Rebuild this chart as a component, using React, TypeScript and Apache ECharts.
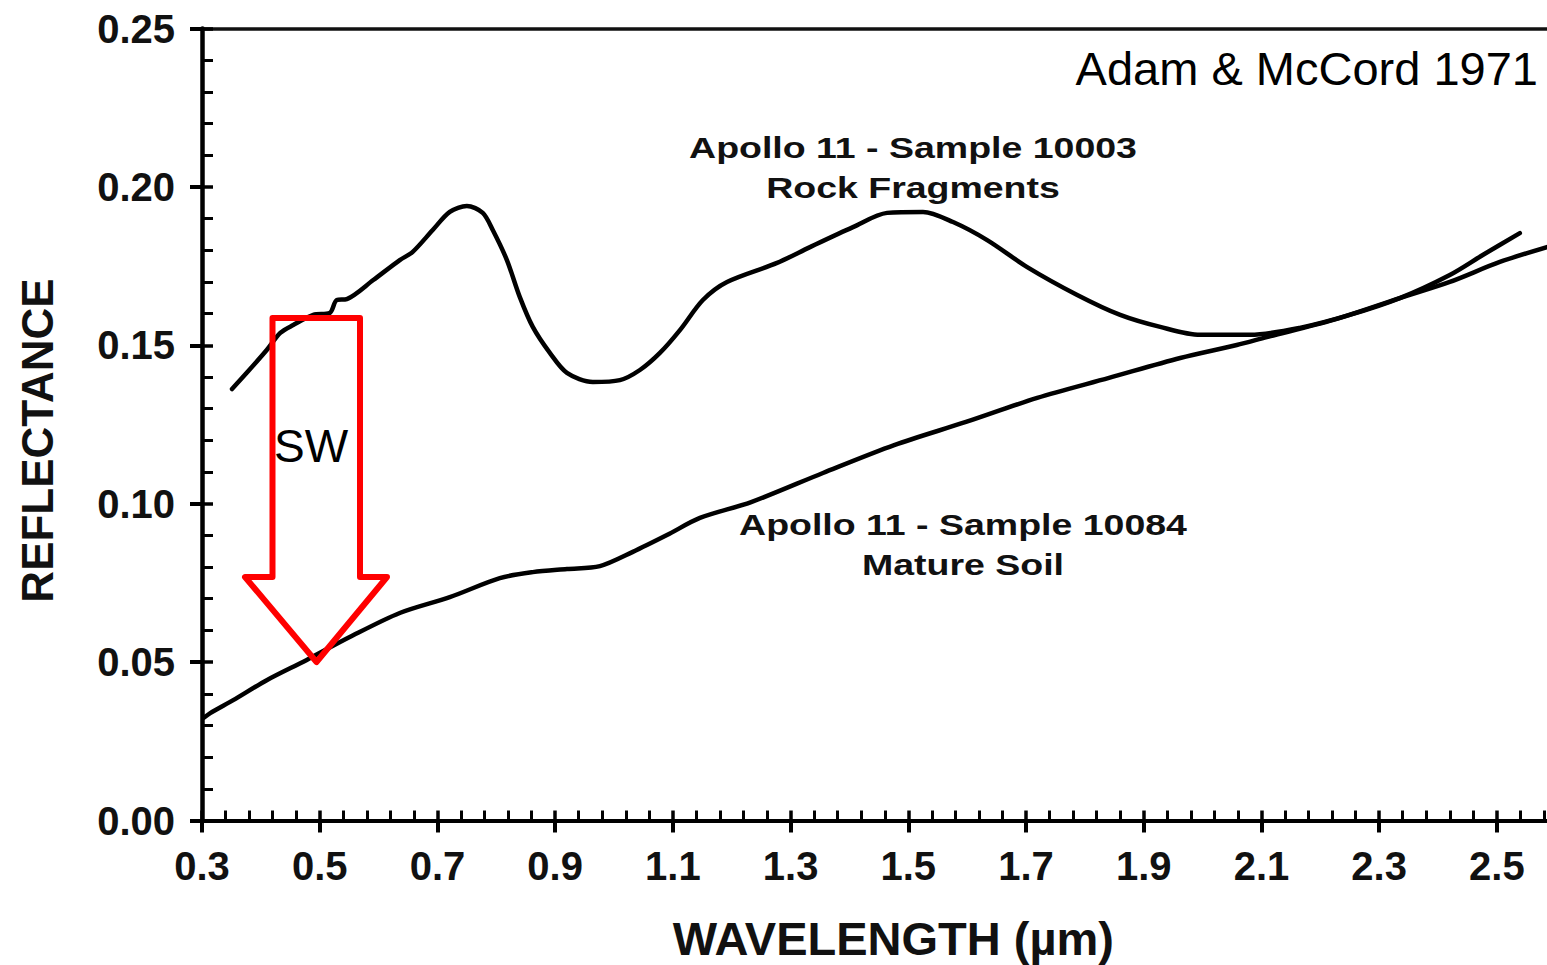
import React, { useEffect, useRef } from "react";
import * as echarts from "echarts";

// Apollo 11 sample 10003 (rock fragments)
const rockWavelength = [0.351, 0.376, 0.41, 0.433, 0.455, 0.489, 0.517, 0.529, 0.546, 0.591, 0.636, 0.658, 0.692, 0.721, 0.75, 0.777, 0.794, 0.818, 0.84, 0.862, 0.891, 0.92, 0.964, 1.01, 1.044, 1.078, 1.112, 1.151, 1.192, 1.277, 1.333, 1.406, 1.464, 1.525, 1.576, 1.634, 1.702, 1.787, 1.86, 1.928, 1.996, 2.081, 2.165, 2.25, 2.335, 2.42, 2.476, 2.539];
const rockReflectance = [0.1362, 0.1413, 0.1485, 0.1539, 0.1564, 0.1596, 0.1602, 0.1643, 0.1646, 0.1706, 0.1769, 0.1795, 0.1864, 0.1921, 0.194, 0.1918, 0.1864, 0.1769, 0.1652, 0.1558, 0.1476, 0.1413, 0.1384, 0.139, 0.1422, 0.1476, 0.1548, 0.1643, 0.17, 0.176, 0.181, 0.1873, 0.1918, 0.1921, 0.1889, 0.1832, 0.1747, 0.1659, 0.1596, 0.1558, 0.1533, 0.1533, 0.1555, 0.1596, 0.1649, 0.1722, 0.1785, 0.1854];

// Apollo 11 sample 10084 (mature soil)
const soilWavelength = [0.303, 0.314, 0.353, 0.41, 0.478, 0.551, 0.636, 0.721, 0.806, 0.862, 0.92, 0.976, 1.032, 1.09, 1.146, 1.233, 1.355, 1.476, 1.598, 1.719, 1.841, 1.962, 2.058, 2.109, 2.222, 2.335, 2.42, 2.505, 2.585];
const soilReflectance = [0.0324, 0.0339, 0.038, 0.0443, 0.0507, 0.0579, 0.0655, 0.0705, 0.0765, 0.0784, 0.0794, 0.0803, 0.0848, 0.0901, 0.0955, 0.1005, 0.1097, 0.1185, 0.1258, 0.1334, 0.1397, 0.146, 0.1501, 0.1526, 0.158, 0.1649, 0.17, 0.1763, 0.181];

const xMin = 0.3;
const xMax = 2.7;
const xStep = 0.2;
const yMin = 0;
const yMax = 0.25;
const yStep = 0.05;

const xAxisName = "WAVELENGTH (µm)";
const yAxisName = "REFLECTANCE";
const rockLabel = ["Apollo 11 - Sample 10003", "Rock Fragments"];
const soilLabel = ["Apollo 11 - Sample 10084", "Mature Soil"];
const citation = "Adam & McCord 1971";
const arrowLabel = "SW";

const FONT = "'Liberation Sans', Arial, Helvetica, sans-serif";

function zip(xs: number[], ys: number[]) {
  return xs.map((x, i) => [x, ys[i]]);
}

export default function App() {
  const ref = useRef<HTMLDivElement>(null);

  useEffect(() => {
    if (!ref.current) return;
    const chart = echarts.init(ref.current, null, { renderer: "svg" });

    const common = {
      type: "value" as const,
      min: xMin,
      max: xMax,
      interval: xStep,
      splitLine: { show: false },
    };
    const commonY = {
      type: "value" as const,
      min: yMin,
      max: yMax,
      interval: yStep,
      splitLine: { show: false },
    };

    const annot = (text: string, x: number, y: number) => ({
      type: "text",
      x,
      y,
      scaleX: 1.25,
      z: 50,
      style: {
        text,
        fill: "#111",
        font: `bold 30px ${FONT}`,
        textAlign: "center",
        textVerticalAlign: "middle",
        align: "center",
        verticalAlign: "middle",
      },
    });

    chart.setOption({
      animation: false,
      backgroundColor: "#ffffff",
      grid: {
        left: 202,
        top: 28.5,
        width: 1412.6,
        height: 792,
        containLabel: false,
        outerBoundsMode: "none",
      },
      xAxis: [
        {
          ...common,
          position: "bottom",
          name: xAxisName,
          nameLocation: "middle",
          nameGap: 94,
          nameTextStyle: {
            fontFamily: FONT,
            fontWeight: "bold",
            fontSize: 47,
            color: "#111",
            padding: [0, 30, 0, 0],
          },
          axisLine: { show: true, lineStyle: { color: "#000", width: 4 } },
          axisTick: { show: true, inside: false, length: 12, lineStyle: { color: "#000", width: 4 } },
          minorTick: { show: false },
          axisLabel: {
            show: true,
            margin: 25,
            fontFamily: FONT,
            fontWeight: "bold",
            fontSize: 40,
            color: "#111",
            formatter: (v: number) => (v > 2.55 ? "" : v.toFixed(1)),
            showMaxLabel: false,
          },
        },
        {
          ...common,
          position: "bottom",
          axisLine: { show: false },
          axisTick: { show: true, inside: true, length: 10, lineStyle: { color: "#000", width: 3.5 } },
          minorTick: { show: true, splitNumber: 5, length: 10, lineStyle: { color: "#000", width: 3 } },
          axisLabel: { show: false },
        },
        {
          ...common,
          position: "top",
          axisLine: { show: true, lineStyle: { color: "#111", width: 3.5 } },
          axisTick: { show: false },
          minorTick: { show: false },
          axisLabel: { show: false },
        },
      ],
      yAxis: [
        {
          ...commonY,
          position: "left",
          name: yAxisName,
          nameLocation: "middle",
          nameRotate: 90,
          nameGap: 143,
          nameTextStyle: {
            fontFamily: FONT,
            fontWeight: "bold",
            fontSize: 44,
            color: "#111",
            padding: [0, 32, 0, 0],
          },
          axisLine: { show: true, lineStyle: { color: "#000", width: 4.5 } },
          axisTick: { show: true, inside: false, length: 12, lineStyle: { color: "#000", width: 4 } },
          minorTick: { show: false },
          axisLabel: {
            show: true,
            margin: 27,
            fontFamily: FONT,
            fontWeight: "bold",
            fontSize: 40,
            color: "#111",
            formatter: (v: number) => v.toFixed(2),
          },
        },
        {
          ...commonY,
          position: "left",
          axisLine: { show: false },
          axisTick: { show: true, inside: true, length: 11, lineStyle: { color: "#000", width: 3.5 } },
          minorTick: { show: true, splitNumber: 5, length: 11, lineStyle: { color: "#000", width: 3 } },
          axisLabel: { show: false },
        },
      ],
      series: [
        {
          name: rockLabel.join(" "),
          type: "line",
          xAxisIndex: 0,
          yAxisIndex: 0,
          data: zip(rockWavelength, rockReflectance),
          showSymbol: false,
          symbol: "none",
          smooth: 0.3,
          lineStyle: { color: "#000", width: 4.5, cap: "round", join: "round" },
          z: 3,
        },
        {
          name: soilLabel.join(" "),
          type: "line",
          xAxisIndex: 0,
          yAxisIndex: 0,
          data: zip(soilWavelength, soilReflectance),
          showSymbol: false,
          symbol: "none",
          smooth: 0.3,
          lineStyle: { color: "#000", width: 4.5, cap: "round", join: "round" },
          z: 3,
        },
      ],
      graphic: [
        {
          type: "text",
          x: 1538,
          y: 68,
          z: 50,
          style: {
            text: citation,
            fill: "#000",
            font: `47px ${FONT}`,
            textAlign: "right",
            textVerticalAlign: "middle",
            align: "right",
            verticalAlign: "middle",
          },
        },
        annot(rockLabel[0], 913, 147),
        annot(rockLabel[1], 913, 187),
        annot(soilLabel[0], 963, 524),
        annot(soilLabel[1], 963, 564),
        {
          type: "polygon",
          z: 60,
          shape: {
            points: [
              [272.5, 318],
              [360, 318],
              [360, 577],
              [387, 577],
              [316.5, 662],
              [245, 577],
              [272.5, 577],
            ],
          },
          style: {
            fill: "rgba(0,0,0,0)",
            stroke: "#ff0000",
            lineWidth: 6,
            lineJoin: "round",
          },
        },
        {
          type: "text",
          x: 311,
          y: 446,
          z: 60,
          style: {
            text: arrowLabel,
            fill: "#000",
            font: `46px ${FONT}`,
            textAlign: "center",
            textVerticalAlign: "middle",
            align: "center",
            verticalAlign: "middle",
          },
        },
      ],
    });

    return () => {
      chart.dispose();
    };
  }, []);

  return (
    <div
      ref={ref}
      style={{ position: "absolute", left: 0, top: 0, width: 1547, height: 965, background: "#fff" }}
    />
  );
}
